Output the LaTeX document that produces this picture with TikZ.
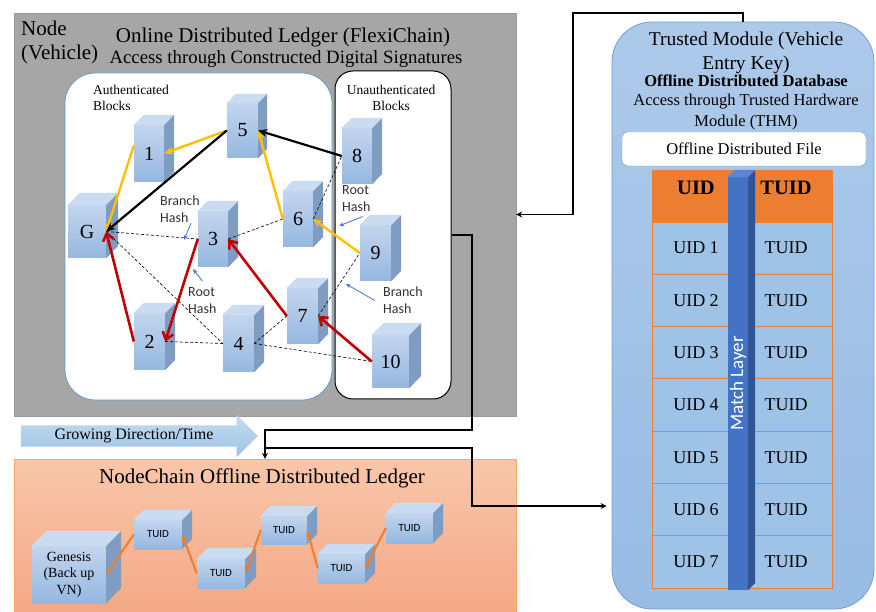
\documentclass[tikz,border=0pt]{standalone}
\usepackage{fontspec}
\setmainfont{Liberation Serif}
\newfontfamily\calibrifont{Carlito}
\usepackage{xcolor}
\usepackage{tikz}
\usetikzlibrary{shapes,arrows,arrows.meta,positioning,calc}

\definecolor{ledgergray}{HTML}{A6A6A6}
\definecolor{panelline}{HTML}{9A9A9A}
\definecolor{authline}{HTML}{5B9BD5}
\definecolor{offedge}{HTML}{F4A46F}
\definecolor{offhi}{HTML}{F8C6AA}
\definecolor{offlo}{HTML}{F4A886}
\definecolor{tmline}{HTML}{6FA0DC}
\definecolor{tmhi}{HTML}{ADC9EA}
\definecolor{tmlo}{HTML}{98BCE4}
\definecolor{cubehi}{HTML}{C2D5EE}
\definecolor{cubelo}{HTML}{95B8E0}
\definecolor{cubeside}{HTML}{7F9DC2}
\definecolor{cubetop}{HTML}{CADCF1}
\definecolor{cellblue}{HTML}{9FC2E7}
\definecolor{hdrorange}{HTML}{ED7D31}
\definecolor{barfront}{HTML}{4472C4}
\definecolor{barside}{HTML}{2F5597}
\definecolor{bartop}{HTML}{5B86D3}
\definecolor{goldarr}{HTML}{FFC000}
\definecolor{redarr}{HTML}{C00000}
\definecolor{hintblue}{HTML}{4472C4}
\definecolor{growhi}{HTML}{C6DBF1}
\definecolor{growlo}{HTML}{9DC3E6}

% front face as a named node, then its side and top faces
\newcommand{\blockcube}[8]{%
  \node[#1, minimum width=#5pt, minimum height=#6pt] (#2) at (#3,#4) {#8};
  \fill[#1 side] (#2.north east) -- ++(#7,-#7) -- ++(0,#6) -- (#2.south east) -- cycle;
  \fill[#1 top] (#2.north west) -- ++(#7,-#7) -- ++(#5,0) -- (#2.north east) -- cycle;
}

\begin{document}
\begin{tikzpicture}[
  x=1pt, y=-1pt,
  panel/.style={rectangle, draw=panelline, fill=ledgergray, inner sep=0},
  authbox/.style={rectangle, rounded corners=30pt, draw=authline, line width=0.8pt, fill=white},
  unauthbox/.style={rectangle, rounded corners=18pt, draw=black, line width=1pt, fill=white},
  offbox/.style={rectangle, draw=offedge, top color=offhi, bottom color=offlo},
  tmbox/.style={rectangle, rounded corners=40pt, draw=tmline, line width=0.8pt,
                top color=tmhi, bottom color=tmlo},
  filebox/.style={rectangle, rounded corners=6pt, draw=tmline, fill=white,
                  font=\fontsize{16.5}{19}\selectfont},
  growarrow/.style={single arrow, single arrow head extend=10.5pt, inner ysep=3.3pt,
               top color=growhi, bottom color=growlo, font=\fontsize{16}{18}\selectfont},
  head/.style={inner sep=0, align=left, font=\fontsize{21}{24}\selectfont},
  lbl/.style={inner sep=0, align=left, font=\fontsize{13.5}{16}\selectfont},
  hint/.style={inner sep=0, align=left, text=black!80, font=\calibrifont\fontsize{14}{17}\selectfont},
  blk/.style={rectangle, inner sep=0, top color=cubehi, bottom color=cubelo,
              font=\fontsize{20}{22}\selectfont},
  blk side/.style={fill=cubeside},
  blk top/.style={fill=cubetop},
  chain/.style={rectangle, inner sep=0, top color=cubehi, bottom color=cubelo, align=center,
                font=\calibrifont\fontsize{11}{13}\selectfont},
  chain side/.style={fill=cubeside},
  chain top/.style={fill=cubetop},
  gen/.style={chain, font=\fontsize{14}{16.5}\selectfont},
  gen side/.style={fill=cubeside},
  gen top/.style={fill=cubetop},
  bar/.style={rectangle, inner sep=0, fill=barfront, text=white,
              font=\calibrifont\fontsize{19}{21}\selectfont},
  bar side/.style={fill=barside},
  bar top/.style={fill=bartop},
  cell/.style={rectangle, draw=hdrorange, line width=0.6pt, fill=cellblue, inner sep=0,
               minimum height=52.3pt, font=\fontsize{18}{20}\selectfont},
  hdr/.style={cell, fill=hdrorange, text depth=16pt, font=\bfseries\fontsize{20.5}{22}\selectfont},
  yarr/.style={-{Stealth[length=9pt,width=8pt]}, line width=2.4pt, goldarr},
  karr/.style={-{Stealth[length=9pt,width=8pt]}, line width=2.2pt, black},
  rarr/.style={-{Straight Barb[length=7pt,width=11pt]}, line width=2.6pt, redarr},
  hashline/.style={line width=0.6pt, dash pattern=on 3pt off 2pt},
  hintarr/.style={-{Stealth[length=5pt,width=4pt]}, line width=0.8pt, hintblue},
  carr/.style={-{Stealth[length=7pt,width=6pt]}, line width=2pt, hdrorange},
  link/.style={->, >=stealth, line width=1.6pt},
]
\useasboundingbox (0,0) rectangle (876,612);

% online ledger
\node[panel, minimum width=502pt, minimum height=403pt] (vehicle) at (265,214.5) {};
\node[authbox, minimum width=267pt, minimum height=327pt] (auth) at (198.5,236.5) {};
\node[unauthbox, minimum width=116pt, minimum height=328pt] (unauth) at (393,235) {};
\node[head, anchor=north west] (vehlabel) at (21,21) {Node\\(Vehicle)};
\node[head, anchor=base] (ledgertitle) at (283,43) {Online Distributed Ledger (FlexiChain)};
\node[head, anchor=base, font=\fontsize{18.8}{21}\selectfont] (ledgeraccess) at (286,64)
     {Access through Constructed Digital Signatures};
\node[lbl, anchor=north west] (authlabel) at (93,85) {Authenticated\\Blocks};
\node[lbl, align=center, anchor=north] (unauthlabel) at (391,85) {Unauthenticated\\Blocks};

\blockcube{blk}{g}{87}{231.5}{38}{53}{12}{G}
\blockcube{blk}{b1}{149}{153.5}{30}{57}{10}{1}
\blockcube{blk}{b5}{242.5}{130.5}{31}{55}{9}{5}
\blockcube{blk}{b3}{213}{239}{30}{56}{10}{3}
\blockcube{blk}{b6}{298}{219}{30}{56}{10}{6}
\blockcube{blk}{b2}{149.5}{341.5}{31}{57}{10}{2}
\blockcube{blk}{b4}{238.5}{343.5}{31}{57}{10}{4}
\blockcube{blk}{b7}{302.5}{316}{31}{56}{10}{7}
\blockcube{blk}{b8}{357}{156}{30}{56}{10}{8}
\blockcube{blk}{b9}{375.5}{253}{31}{56}{10}{9}
\blockcube{blk}{b10}{390.5}{361.5}{37}{53}{12}{10}

\draw[hashline] (g.east) -- (b3.west);
\draw[hashline] (b3.east) -- (b6.west);
\draw[hashline] (g.east) -- (b4.west);
\draw[hashline] (b2.east) -- (b4.west);
\draw[hashline] (b4.east) -- (b7.west);
\draw[hashline] (b4.east) -- (b10.west);
\draw[hashline] (b6.east) -- (b8.west);
\draw[hashline] (b7.east) -- (b9.west);

\draw[yarr] (b5.west) -- (b1.east);
\draw[yarr] ([yshift=8pt]b1.west) -- (g.east);
\draw[yarr] (b6.west) -- (b5.east);
\draw[yarr] (b9.west) -- (b6.east);
\draw[karr] (b5.west) -- (g.east);
\draw[karr] (b8.west) -- (b5.east);
\draw[rarr] (b2.west) -- (g.east);
\draw[rarr] (b3.west) -- (b2.east);
\draw[rarr] (b7.west) -- (b3.east);
\draw[rarr] (b10.west) -- (b7.east);

\node[hint, anchor=north west] (brancha) at (160,196) {Branch\\Hash};
\node[hint, anchor=north west] (roota) at (188,287) {Root\\Hash};
\node[hint, anchor=north west] (rootu) at (342,185) {Root\\Hash};
\node[hint, anchor=north west] (branchu) at (383,287) {Branch\\Hash};
\coordinate (branchatip) at (184,240);
\coordinate (rootatip) at (193,269);
\coordinate (rootutip) at (339,226);
\coordinate (branchutip) at (346,284);
\draw[hintarr] ([xshift=-9pt]brancha.south east) -- (branchatip);
\draw[hintarr] ([yshift=6pt]roota.north) -- (rootatip);
\draw[hintarr] ([xshift=-8pt,yshift=-5pt]rootu.south east) -- (rootutip);
\draw[hintarr] ([xshift=-8pt]branchu.west) -- (branchutip);

% growing direction
\node[growarrow, minimum height=237pt] (grow) at (134,436) {Growing Direction/Time};

% offline ledger
\node[offbox, minimum width=502pt, minimum height=155pt] (offline) at (265,536.5) {};
\node[head, anchor=base] (offtitle) at (262,483) {NodeChain Offline Distributed Ledger};
\blockcube{gen}{genesis}{69}{574.5}{74}{57}{15}{Genesis\\(Back up\\VN)}
\blockcube{chain}{t1}{158}{534.5}{48}{29}{10}{TUID}
\blockcube{chain}{t2}{221}{573.5}{48}{29}{11}{TUID}
\blockcube{chain}{t3}{284}{530}{46}{28}{10}{TUID}
\blockcube{chain}{t4}{341.5}{568.5}{47}{29}{10}{TUID}
\blockcube{chain}{t5}{409.5}{528}{47}{30}{10}{TUID}
\draw[carr] (t1.west) -- (genesis.east);
\draw[carr] (t2.west) -- (t1.east);
\draw[carr] (t3.west) -- (t2.east);
\draw[carr] (t4.west) -- (t3.east);
\draw[carr] (t5.west) -- (t4.east);

% trusted module
\node[tmbox, minimum width=262pt, minimum height=587pt] (tm) at (743,315.5) {};
\node[head, align=center, anchor=north, font=\fontsize{19.5}{24}\selectfont] (tmtitle) at (746,31.5)
     {Trusted Module (Vehicle\\Entry Key)};
\node[inner sep=0, anchor=base, font=\bfseries\fontsize{16.5}{19}\selectfont] (tmdb) at (746,87)
     {Offline Distributed Database};
\node[inner sep=0, align=center, anchor=north, font=\fontsize{16.5}{21}\selectfont] (tmaccess) at (746,94)
     {Access through Trusted Hardware\\Module (THM)};
\node[filebox, minimum width=244pt, minimum height=34pt] (file) at (744,149) {Offline Distributed File};

\node[hdr, minimum width=88pt] (uidhead) at (696,196) {UID};
\node[hdr, minimum width=92pt] (tuidhead) at (786,196) {TUID};
\foreach \i in {1,...,7} {
  \node[cell, minimum width=88pt] (uid\i) at (696,{248+52.3*(\i-1)}) {UID \i};
  \node[cell, minimum width=92pt] (tuid\i) at (786,{248+52.3*(\i-1)}) {TUID};
}
\blockcube{bar}{match}{738}{383.5}{20}{413}{7}{\rotatebox{90}{Match Layer}}

% connectors
\coordinate (topbend) at (573,13);
\coordinate (downbend) at (472,430);
\coordinate (sidebend) at (472,506);
\path (offline.north) ++(0,-11) coordinate (tap);
\draw[link] (tm.north) |- (topbend) |- (vehicle.east);
\draw[link] (unauth.east) -| (downbend) -| (offline.north);
\draw[link, shorten >=5pt] (tap) -| (sidebend) -- (sidebend -| tm.west);
\end{tikzpicture}
\end{document}
